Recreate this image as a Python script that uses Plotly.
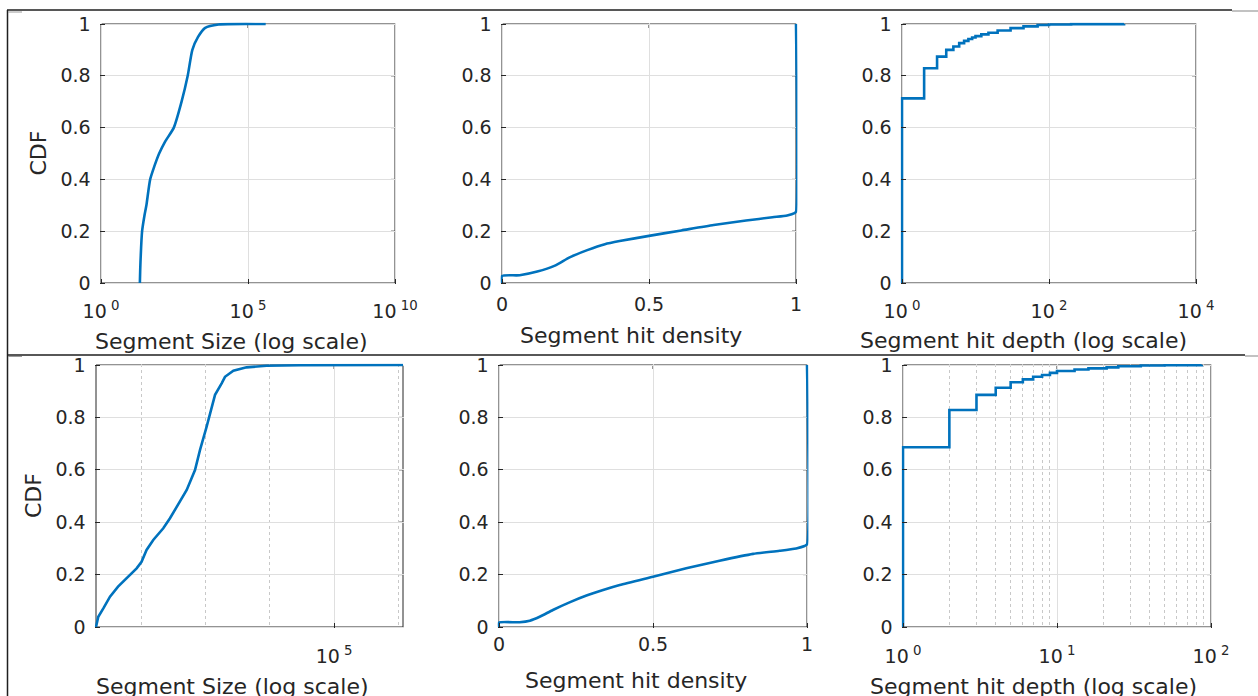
import numpy as np
import plotly.graph_objects as go

# ---------------- data ----------------
# Segment size CDF (upper row)
size_top_x = [21, 22, 25, 30, 35, 47, 65, 95, 150, 300, 550, 890, 1280, 2000, 3500, 10000, 400000]
size_top_y = [0, 0.08, 0.2, 0.26, 0.30, 0.40, 0.45, 0.50, 0.545, 0.60, 0.70, 0.80, 0.90, 0.95, 0.985, 0.998, 1.0]

# Segment hit density CDF (upper row)
dens_top_x = [0, 0, 0.06, 0.12, 0.18, 0.23, 0.29, 0.35, 0.40, 0.50, 0.61, 0.72, 0.83, 0.92, 0.97, 0.995, 1.0, 1.0]
dens_top_y = [0, 0.027, 0.03, 0.044, 0.067, 0.099, 0.127, 0.150, 0.162, 0.182, 0.203, 0.224, 0.241, 0.254, 0.261, 0.27, 0.275, 1.0]

# Segment hit depth CDF (upper row), step function over integer depths
depth_top_x = [1, 1, 2, 3, 4, 5, 6, 7, 8, 9, 10, 12, 15, 20, 30, 45, 70, 100, 200, 1050]
depth_top_y = [0, 0.713, 0.829, 0.874, 0.90, 0.913, 0.926, 0.935, 0.942, 0.948, 0.953, 0.96, 0.966, 0.975,
               0.984, 0.991, 0.996, 0.998, 0.9995, 1.0]

# Segment size CDF (lower row)
size_bot_x = [20, 21.7, 26, 33, 44, 60, 85.5, 102, 122, 155, 222, 282, 358, 513, 690, 826, 1047, 1253,
              1413, 1790, 2018, 2723, 4365, 8913, 29512, 1174898]
size_bot_y = [0, 0.039, 0.071, 0.116, 0.154, 0.186, 0.224, 0.249, 0.294, 0.332, 0.377, 0.415, 0.459,
              0.523, 0.599, 0.676, 0.765, 0.841, 0.886, 0.93, 0.955, 0.978, 0.991, 0.997, 0.999, 1.0]

# Segment hit density CDF (lower row)
dens_bot_x = [0, 0, 0.067, 0.10, 0.132, 0.175, 0.229, 0.284, 0.338, 0.392, 0.50, 0.608, 0.716, 0.825,
              0.911, 0.965, 0.992, 1.0, 1.0]
dens_bot_y = [0, 0.0165, 0.018, 0.024, 0.039, 0.065, 0.094, 0.12, 0.141, 0.16, 0.192, 0.224, 0.253,
              0.279, 0.291, 0.30, 0.309, 0.315, 1.0]

# Segment hit depth CDF (lower row)
depth_bot_x = [1, 1, 2, 3, 4, 5, 6, 7, 8, 9, 10, 13, 16, 21, 25, 35, 50, 87]
depth_bot_y = [0, 0.686, 0.828, 0.886, 0.913, 0.934, 0.945, 0.955, 0.962, 0.97, 0.977, 0.983, 0.987,
               0.991, 0.995, 0.998, 0.999, 1.0]

cdf_ticks = [0, 0.2, 0.4, 0.6, 0.8, 1]
cdf_labels = ["0", "0.2", "0.4", "0.6", "0.8", "1"]

size_top_ticks = [1, 1e5, 1e10]
size_top_labels = ["10<sup> 0</sup>", "10<sup> 5</sup>", "10<sup> 10</sup>"]
depth_top_ticks = [1, 100, 10000]
depth_top_labels = ["10<sup> 0</sup>", "10<sup> 2</sup>", "10<sup> 4</sup>"]
size_bot_ticks = [1e5]
size_bot_labels = ["10<sup> 5</sup>"]
size_bot_minor = [1e2, 1e3, 1e4, 1e6]
depth_bot_ticks = [1, 10, 100]
depth_bot_labels = ["10<sup> 0</sup>", "10<sup> 1</sup>", "10<sup> 2</sup>"]
depth_bot_minor = [2, 3, 4, 5, 6, 7, 8, 9, 20, 30, 40, 50, 60, 70, 80, 90]
dens_ticks = [0, 0.5, 1]
dens_labels = ["0", "0.5", "1"]

x_titles = ["Segment Size (log scale)", "Segment hit density", "Segment hit depth (log scale)",
            "Segment Size (log scale)", "Segment hit density", "Segment hit depth (log scale)"]

# ---------------- styling ----------------
W, H = 1258, 696
BLUE = "#0072BD"
INK = "#262626"
GRID = "rgb(223,223,223)"
MINOR = "rgb(200,200,200)"
FONT = "DejaVu Sans"
EDGE_PAD = 1.4  # px of slack so curves lying on the box edge are not clipped
TICK = 4

# plot boxes in pixels: (left, right, top, bottom)
boxes = [
    (101, 395, 24, 283), (502, 796, 24, 283), (902, 1196, 24, 283),
    (96, 403, 365, 627), (499, 807, 365, 627), (903, 1211, 365, 627),
]

series = [
    (size_top_x, size_top_y, "spline"),
    (dens_top_x, dens_top_y, "spline"),
    (depth_top_x, depth_top_y, "hv"),
    (size_bot_x, size_bot_y, "linear"),
    (dens_bot_x, dens_bot_y, "spline"),
    (depth_bot_x, depth_bot_y, "hv"),
]

fig = go.Figure()
for i, (xs, ys, shape) in enumerate(series):
    n = "" if i == 0 else str(i + 1)
    line = dict(color=BLUE, width=2.6, shape=shape)
    if shape == "spline":
        line["smoothing"] = 0.6
    fig.add_trace(go.Scatter(x=xs, y=ys, mode="lines", line=line,
                             xaxis="x" + n, yaxis="y" + n, showlegend=False, hoverinfo="skip"))


def base_axis():
    return dict(showline=False, ticks="inside", ticklen=TICK + EDGE_PAD, tickwidth=1, tickcolor=INK,
                showgrid=True, gridcolor=GRID, gridwidth=1, zeroline=False, automargin=False,
                tickfont=dict(family=FONT, size=19, color=INK), fixedrange=True)


# axis ranges (linear units, or log10 units for log axes)
x_kind = ["log", "linear", "log", "log", "linear", "log"]
x_range = [(0, 10), (0, 1), (0, 4),
           (np.log10(min(size_bot_x)), np.log10(max(size_bot_x))), (0, 1), (0, 2)]
x_specs = [
    dict(tickvals=size_top_ticks, ticktext=size_top_labels),
    dict(tickvals=dens_ticks, ticktext=dens_labels),
    dict(tickvals=depth_top_ticks, ticktext=depth_top_labels),
    dict(tickvals=size_bot_ticks, ticktext=size_bot_labels,
         minor=dict(tickmode="array", tickvals=size_bot_minor, showgrid=True, griddash="dot",
                    gridcolor=MINOR, gridwidth=1, ticks="")),
    dict(tickvals=dens_ticks, ticktext=dens_labels),
    dict(tickvals=depth_bot_ticks, ticktext=depth_bot_labels,
         minor=dict(tickmode="array", tickvals=depth_bot_minor, showgrid=True, griddash="dot",
                    gridcolor=MINOR, gridwidth=1, ticks="")),
]
x_standoff = [14, 7, 14, 15, 3, 15]

layout = dict(width=W, height=H, margin=dict(l=0, r=0, t=0, b=0, pad=0, autoexpand=False),
              paper_bgcolor="white", plot_bgcolor="white", showlegend=False)

shapes = []
for i, (l, r, t, b) in enumerate(boxes):
    n = "" if i == 0 else str(i + 1)
    r0, r1 = x_range[i]
    xp = EDGE_PAD / (r - l) * (r1 - r0)
    yp = EDGE_PAD / (b - t)
    xa = base_axis()
    xa.update(x_specs[i])
    xa.update(type=x_kind[i], tickmode="array", range=[r0 - xp, r1 + xp],
              domain=[(l - EDGE_PAD) / W, (r + EDGE_PAD) / W], anchor="y" + n,
              ticklabelstandoff=x_standoff[i])
    ya = base_axis()
    ya.update(range=[-yp, 1 + yp], tickmode="array", tickvals=cdf_ticks, ticktext=cdf_labels,
              domain=[1 - (b + EDGE_PAD) / H, 1 - (t - EDGE_PAD) / H], anchor="x" + n,
              ticklabelstandoff=8)
    layout["xaxis" + n] = xa
    layout["yaxis" + n] = ya
    # axes box on the exact data limits
    shapes.append(dict(type="rect", xref="paper", yref="paper", x0=l / W, x1=r / W,
                       y0=1 - b / H, y1=1 - t / H, line=dict(color=INK, width=1), layer="between"))
    # mirrored inward ticks on the right and top sides
    for v in cdf_ticks[1:-1]:
        yy = 1 - (b - v * (b - t)) / H
        shapes.append(dict(type="line", xref="paper", yref="paper", x0=(r - TICK) / W, x1=r / W,
                           y0=yy, y1=yy, line=dict(color=INK, width=1), layer="between"))
    for v in x_specs[i]["tickvals"]:
        u = np.log10(v) if x_kind[i] == "log" else v
        frac = (u - r0) / (r1 - r0)
        if 0.001 < frac < 0.999:
            xx = (l + frac * (r - l)) / W
            shapes.append(dict(type="line", xref="paper", yref="paper", x0=xx, x1=xx,
                               y0=1 - t / H, y1=1 - (t + TICK) / H, line=dict(color=INK, width=1),
                               layer="between"))

fig.update_layout(**layout)
for s in shapes:
    fig.add_shape(**s)

# axis titles
title_font = dict(family=FONT, size=22, color=INK)
title_pos = [(231, 341), (631, 335), (1023, 340), (232, 686), (636, 680), (1033, 686)]
for txt, (cx, cy) in zip(x_titles, title_pos):
    fig.add_annotation(text=txt, x=cx / W, y=1 - cy / H, xref="paper", yref="paper",
                       xanchor="center", yanchor="middle", showarrow=False, font=title_font)
for cx, cy in [(38, 153.5), (33, 496)]:
    fig.add_annotation(text="CDF", x=cx / W, y=1 - cy / H, xref="paper", yref="paper",
                       xanchor="center", yanchor="middle", textangle=-90, showarrow=False, font=title_font)

# outer frame lines
frame = [
    (7.5, 10, 7.5, H, "#1f1f1f", 1.5),
    (7, 10, 1232, 10, "#1f1f1f", 1.5),
    (1232, 11, W, 11, "#9a9a9a", 1.2),
    (7, 355, 1245, 355, "#1f1f1f", 1.5),
    (1245, 356, W, 356, "#9a9a9a", 1.2),
    (8, 12, 22, 12, "#9a9a9a", 1),
    (8, 356.5, 22, 356.5, "#9a9a9a", 1),
]
for x0, y0, x1, y1, c, w in frame:
    fig.add_shape(type="line", xref="paper", yref="paper", x0=x0 / W, y0=1 - y0 / H, x1=x1 / W,
                  y1=1 - y1 / H, line=dict(color=c, width=w))

fig.write_html("out.html")
